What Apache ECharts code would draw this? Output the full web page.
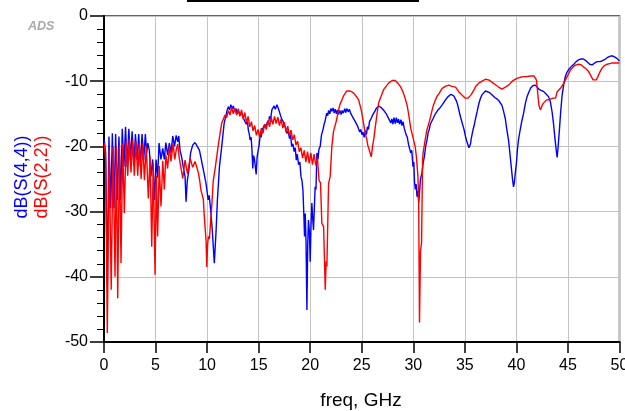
<!DOCTYPE html>
<html>
<head>
<meta charset="utf-8">
<script src="https://cdn.jsdelivr.net/npm/echarts@6/dist/echarts.min.js"></script>
<style>
html,body{margin:0;padding:0;background:#fff;}
#chart{width:625px;height:411px;}
</style>
</head>
<body>
<div id="chart"></div>
<script>
// ---- data (freq GHz, dB) ----
var xTicks = [0, 5, 10, 15, 20, 25, 30, 35, 40, 45, 50];
var yTicks = [-50, -40, -30, -20, -10, 0];
var seriesNames = ['dB(S(4,4))', 'dB(S(2,2))'];

// dB(S(4,4)) blue
var s44Low = [[0.02,-19],[0.16,-21],[0.32,-41.5],[0.48,-18.5],[0.65,-29.5],[0.81,-18],[0.97,-29.5],[1.13,-18.1],[1.29,-28.2],[1.45,-18.5],[1.61,-28.2],[1.77,-17.3],[1.93,-23.1],[2.09,-17],[2.25,-23.1],[2.41,-17.3],[2.57,-22.1],[2.73,-17.7],[2.89,-23],[3.05,-18.1],[3.21,-22.1],[3.37,-18.1],[3.53,-23],[3.69,-18.1],[3.85,-22.1],[4.01,-18.1],[4.14,-21],[4.25,-19.5],[4.4,-20.6],[4.55,-24.6],[4.72,-22],[4.9,-28.2],[5.05,-22],[5.2,-24.8],[5.34,-19.5],[5.52,-22],[5.7,-20.3],[5.85,-22],[6.0,-19.4],[6.17,-21.3],[6.34,-19.5],[6.5,-21],[6.67,-18.4],[6.84,-20],[7.0,-18.3],[7.15,-19.3],[7.25,-18.4],[7.38,-20.6],[7.55,-21.8],[7.7,-23.3],[7.86,-24.6],[7.96,-28.5],[8.08,-25.2],[8.2,-24.1],[8.4,-21],[8.6,-19.8],[8.83,-19.4],[9.05,-20],[9.26,-20.6],[9.45,-22.1],[9.7,-24.1],[9.9,-25.7],[10.1,-28.2],[10.2,-27.5],[10.35,-29.8],[10.5,-32.8],[10.7,-37.9],[10.87,-33],[11.0,-28.2],[11.2,-23.1],[11.42,-20],[11.65,-16.5]];
var s44Mid = [[11.84,-15.2],[11.95,-14.4],[12.07,-13.9],[12.18,-14.4],[12.3,-13.6],[12.42,-14.2],[12.55,-13.8],[12.67,-14.6],[12.8,-14.2],[12.92,-15],[13.05,-14.6],[13.2,-15.2],[13.35,-14.8],[13.5,-15.6],[13.65,-15.4],[13.8,-16.6],[13.92,-16.2],[14.0,-17.5],[14.1,-18.2],[14.17,-19],[14.27,-18.6],[14.35,-20.5],[14.43,-23.4],[14.5,-21.4],[14.58,-21.8],[14.67,-23],[14.76,-24.3],[14.85,-21.6],[14.95,-20.6],[15.05,-19.8],[15.15,-18.2],[15.25,-18.6],[15.35,-17.4],[15.47,-17.6],[15.6,-16.6],[15.72,-17.1],[15.85,-16.2],[15.95,-16.6],[16.05,-15.4],[16.17,-15.8],[16.28,-14.4],[16.4,-14.7],[16.5,-13.8],[16.62,-14.3],[16.77,-13.6],[16.9,-14.1],[17.02,-14.2],[17.15,-15.4],[17.25,-15.8],[17.38,-16.2],[17.5,-16.8],[17.62,-17.2],[17.73,-18],[17.85,-17.6],[18.0,-18.8],[18.1,-18.2],[18.2,-20],[18.32,-19.6],[18.45,-20.8],[18.55,-20.2],[18.65,-22.1],[18.75,-21.2],[18.87,-22.8],[19.0,-22.4],[19.1,-24.6],[19.2,-25.2],[19.3,-26.8],[19.38,-30.3],[19.45,-33.8],[19.52,-30.3],[19.6,-35],[19.68,-45.1],[19.76,-35],[19.83,-31.3],[19.92,-33],[20.0,-37.7],[20.08,-32],[20.16,-28.7],[20.24,-31],[20.32,-32.8],[20.4,-29.5],[20.48,-26.2],[20.56,-26.6],[20.65,-21],[20.75,-22],[20.85,-20.4],[20.97,-20],[21.1,-18.2],[21.23,-17.5],[21.35,-16.6],[21.46,-16],[21.6,-14.9],[21.7,-15.3],[21.78,-14.5],[21.9,-15],[22.0,-14.2],[22.1,-14.6],[22.22,-14.1],[22.33,-14.9],[22.43,-14.3],[22.55,-15],[22.65,-14.4],[22.75,-15.1],[22.88,-14.5],[23.0,-15.1],[23.1,-14.5],[23.22,-14.9],[23.35,-14.2],[23.45,-14.8],[23.55,-14.2],[23.7,-14.7],[23.8,-14.3],[23.92,-14.9],[24.05,-14.9],[24.15,-15.6],[24.25,-15.4],[24.37,-16.2],[24.48,-15.9],[24.6,-16.9],[24.7,-17],[24.8,-17.8],[24.9,-17.4],[25.02,-18.2],[25.12,-17.8],[25.24,-18.6],[25.35,-17.6],[25.45,-18.2],[25.55,-17],[25.65,-17.4],[25.75,-16.2],[25.85,-16.4],[25.95,-15.6],[26.05,-15.2],[26.15,-14.9],[26.28,-14.6],[26.4,-14.2],[26.52,-14.4],[26.65,-13.8],[26.8,-13.6],[26.92,-14.1],[27.05,-13.8],[27.15,-14.5],[27.28,-14.3],[27.38,-15],[27.5,-14.9],[27.6,-15.7],[27.7,-15.4],[27.82,-16.4],[27.92,-15.8],[28.02,-16.6],[28.12,-15.6],[28.25,-16.5],[28.35,-15.6],[28.47,-16.4],[28.57,-15.8],[28.67,-16.6],[28.8,-15.9],[28.9,-16.8],[29.0,-16.2],[29.12,-17.2],[29.22,-17],[29.3,-18.2],[29.42,-18.6],[29.55,-19.8],[29.65,-19.6],[29.75,-21],[29.85,-20.6],[29.97,-23.1]];
var s44High = [[30.05,-22.4],[30.12,-25.5],[30.2,-26.6],[30.28,-25.8],[30.36,-27.7],[30.45,-26.8],[30.52,-28.6],[30.6,-27.2],[30.68,-25.2],[30.76,-24.6],[30.84,-24.1],[30.95,-22.6],[31.07,-21.6],[31.2,-20],[31.33,-19],[31.45,-17.8],[31.55,-17.4],[31.65,-16.6],[31.78,-16.4],[31.9,-15.8],[32.02,-15.6],[32.14,-15],[32.25,-15.2],[32.35,-14.5],[32.45,-14.8],[32.58,-14.1],[32.7,-14.3],[32.82,-13.6],[32.94,-13.7],[33.06,-13],[33.2,-12.9],[33.35,-12.4],[33.5,-12.3],[33.65,-12.0],[33.8,-12.1],[33.95,-12.3],[34.07,-12.6],[34.2,-13.1],[34.3,-13.6],[34.4,-14.3],[34.5,-15],[34.6,-15.6],[34.72,-16.3],[34.85,-17],[34.95,-17.6],[35.08,-18.6],[35.2,-19.3],[35.3,-19.6],[35.4,-20.2],[35.47,-19.9],[35.55,-19.6],[35.62,-18.8],[35.7,-18.5],[35.8,-17.4],[35.9,-16.8],[36.0,-16],[36.2,-14.6],[36.35,-13.5],[36.5,-12.7],[36.65,-12.1],[36.8,-11.8],[37.0,-11.5],[37.15,-11.5],[37.35,-11.7],[37.5,-11.9],[37.7,-12.2],[37.9,-12.5],[38.1,-12.7],[38.3,-13],[38.45,-13.3],[38.6,-13.7],[38.77,-14.7],[38.93,-15.8],[39.05,-17.2],[39.15,-18.2],[39.25,-19.2],[39.38,-21.2],[39.5,-23.1],[39.62,-25],[39.72,-26.2],[39.8,-25.6],[39.9,-24],[40.0,-22.6],[40.1,-20.5],[40.2,-19],[40.35,-17.6],[40.5,-16.3],[40.7,-14.9],[40.87,-13.4],[41.05,-12.3],[41.2,-11.7],[41.4,-11],[41.6,-10.7],[41.84,-10.6],[42.0,-10.9],[42.17,-11.2],[42.4,-11.4],[42.65,-11.6],[42.9,-12],[43.13,-12.4],[43.3,-13.2],[43.47,-14.8],[43.6,-16.5],[43.72,-18.5],[43.85,-20.4],[43.95,-21.7],[44.05,-20],[44.17,-17.5],[44.3,-14.6],[44.43,-12.2],[44.6,-10.4],[44.76,-9.2],[44.92,-8.6],[45.08,-8.2],[45.3,-7.8],[45.57,-7.4],[45.8,-7],[46.05,-6.7],[46.3,-6.6],[46.5,-6.6],[46.7,-6.8],[46.9,-7.1],[47.1,-7.4],[47.35,-7.5],[47.6,-7.2],[47.83,-7],[48.1,-7],[48.3,-6.9],[48.55,-6.7],[48.8,-6.4],[49.05,-6.2],[49.3,-6.1],[49.55,-6.3],[49.75,-6.5],[50.0,-6.9]];

// dB(S(2,2)) red
var s22Low = [[0.02,-19.5],[0.16,-22],[0.32,-48.6],[0.5,-20.5],[0.7,-42],[0.88,-20],[1.07,-40],[1.2,-20],[1.33,-43.3],[1.5,-19.8],[1.65,-37.9],[1.81,-19.5],[1.97,-30.2],[2.14,-19.2],[2.3,-24.5],[2.46,-18.8],[2.62,-24],[2.78,-19],[2.94,-24.5],[3.1,-19.2],[3.27,-24.5],[3.43,-19.5],[3.6,-25],[3.76,-19.5],[3.92,-25.2],[4.1,-20],[4.3,-28],[4.47,-21.5],[4.63,-35.4],[4.78,-22.5],[4.95,-39.7],[5.08,-24.5],[5.2,-33.8],[5.36,-23],[5.53,-29.2],[5.7,-22.2],[5.85,-26.6],[6.0,-21.3],[6.17,-23.4],[6.34,-20],[6.5,-22.3],[6.7,-19.5],[6.86,-22],[7.0,-20.6],[7.15,-19.6],[7.3,-21.8],[7.45,-21.5],[7.64,-24.9],[7.86,-22.1],[8.1,-24.2],[8.35,-21.8],[8.6,-23.2],[8.83,-22.3],[9.0,-23.2],[9.16,-24.1],[9.28,-25.2],[9.4,-26.7],[9.52,-27.4],[9.64,-28.2],[9.72,-30.5],[9.8,-32.3],[9.9,-34.5],[9.97,-38.5],[10.05,-35],[10.13,-33.8],[10.22,-34.2],[10.3,-34.5],[10.45,-29.2],[10.6,-25.2],[10.78,-23.4],[11.0,-20.8],[11.13,-19.3],[11.26,-18]];
var s22Mid = [[11.42,-16.4],[11.58,-16.6],[11.74,-15.2],[11.9,-15.6],[12.06,-14.5],[12.22,-15.2],[12.38,-14.0],[12.54,-15.0],[12.7,-14.2],[12.86,-15.2],[13.02,-14.2],[13.18,-15.4],[13.34,-14.4],[13.5,-15.8],[13.66,-14.8],[13.82,-16.4],[13.98,-15.4],[14.14,-17],[14.3,-16.2],[14.46,-17.6],[14.62,-16.8],[14.78,-18.3],[14.94,-17.4],[15.1,-18.6],[15.26,-17.2],[15.42,-18],[15.58,-16.6],[15.74,-17.4],[15.9,-16],[16.06,-17],[16.22,-15.6],[16.38,-16.6],[16.54,-15.4],[16.7,-16.5],[16.86,-15.5],[17.02,-16.8],[17.18,-15.8],[17.34,-17.2],[17.5,-16.3],[17.66,-17.8],[17.82,-16.9],[17.98,-18.4],[18.14,-17.5],[18.3,-19],[18.46,-18.2],[18.62,-19.8],[18.78,-19.2],[18.94,-20.8],[19.1,-20.2],[19.26,-21.8],[19.42,-20.6],[19.58,-22.4],[19.74,-20.8],[19.9,-22.6],[20.06,-21],[20.22,-22.8],[20.38,-21.2],[20.54,-22.9],[20.7,-21.8],[20.86,-25.2],[21.0,-25.6],[21.13,-31.8],[21.3,-32.3],[21.46,-42],[21.55,-37.6],[21.62,-38.4],[21.78,-25.7],[21.94,-24.6],[22.1,-20],[22.26,-17.7],[22.52,-16.2],[22.75,-14.4],[22.9,-13.5],[23.07,-12.9],[23.25,-12.2],[23.4,-11.9],[23.55,-11.5],[23.72,-11.3],[23.88,-11.5],[24.05,-11.6],[24.2,-11.8],[24.37,-11.9],[24.55,-12.5],[24.7,-12.9],[24.85,-13.8],[24.95,-14.4],[25.08,-15.6],[25.18,-16.5],[25.34,-18],[25.5,-19],[25.58,-19.8],[25.66,-20],[25.75,-19.5],[25.83,-21.1],[25.92,-21.6],[26.05,-20],[26.2,-18.5],[26.3,-17.2],[26.4,-16],[26.5,-14.8],[26.63,-13.4],[26.75,-12.8],[26.86,-12.4],[27.0,-11.8],[27.12,-11.3],[27.3,-10.9],[27.44,-10.6],[27.6,-10.3],[27.77,-10.1],[27.95,-9.9],[28.1,-9.8],[28.25,-9.9],[28.4,-10.1],[28.55,-10.4],[28.74,-10.8],[28.9,-11.3],[29.06,-11.9],[29.22,-12.7],[29.4,-13.7],[29.52,-14.8],[29.64,-16],[29.75,-17.2],[29.87,-18],[30.0,-18.8],[30.1,-19],[30.2,-20.2],[30.3,-21.6],[30.45,-24.6],[30.52,-28.2],[30.6,-47],[30.7,-36],[30.8,-34.8],[30.9,-22.1]];
var s22High = [[30.95,-21],[31.05,-20],[31.17,-18.8],[31.3,-17.6],[31.5,-16.5],[31.65,-15.6],[31.8,-14.6],[31.97,-13.6],[32.14,-12.9],[32.3,-12.3],[32.5,-11.9],[32.65,-11.5],[32.8,-11.1],[32.94,-11],[33.1,-10.8],[33.27,-10.7],[33.44,-10.6],[33.6,-10.7],[33.75,-10.8],[33.9,-10.8],[34.1,-10.9],[34.25,-11.2],[34.4,-11.6],[34.55,-11.9],[34.72,-12.1],[34.9,-12.4],[35.05,-12.6],[35.2,-12.8],[35.3,-12.6],[35.45,-12.3],[35.6,-12.1],[35.75,-11.8],[35.9,-11.3],[36.05,-10.8],[36.2,-10.6],[36.34,-10.3],[36.5,-10.1],[36.67,-10],[36.85,-9.8],[37.0,-9.7],[37.15,-9.7],[37.3,-9.8],[37.5,-10],[37.64,-10.2],[37.85,-10.4],[38.1,-10.7],[38.35,-11],[38.6,-11.2],[38.77,-11.2],[38.93,-10.9],[39.1,-10.8],[39.25,-10.6],[39.4,-10.3],[39.6,-10],[39.8,-9.8],[40.0,-9.6],[40.2,-9.5],[40.4,-9.4],[40.7,-9.3],[41.0,-9.3],[41.35,-9.2],[41.7,-9.2],[41.85,-9.4],[41.94,-9.8],[42.02,-11],[42.1,-12.4],[42.2,-13.8],[42.33,-14.4],[42.45,-13.9],[42.6,-13.4],[42.75,-13.1],[42.9,-12.9],[43.05,-12.8],[43.23,-12.8],[43.4,-12.7],[43.56,-12.6],[43.7,-12.3],[43.8,-12.6],[43.95,-11.6],[44.1,-11.3],[44.27,-11.1],[44.45,-10.7],[44.6,-10.3],[44.76,-9.8],[44.92,-9.3],[45.08,-8.8],[45.24,-8.3],[45.4,-8],[45.57,-7.7],[45.8,-7.5],[46.05,-7.4],[46.3,-7.5],[46.5,-7.8],[46.75,-8.1],[47.0,-8.5],[47.2,-9.1],[47.44,-9.8],[47.6,-10.1],[47.75,-9.8],[47.9,-9.3],[48.1,-8.6],[48.3,-8],[48.55,-7.6],[48.8,-7.4],[49.05,-7.3],[49.3,-7.2],[49.6,-7.2],[50.0,-7.2]];

var s44Data = s44Low.concat(s44Mid, s44High);
var s22Data = s22Low.concat(s22Mid, s22High);

var FONT = '"Liberation Sans", Arial, sans-serif';
var chart = echarts.init(document.getElementById('chart'), null, {renderer: 'canvas'});
chart.setOption({
  animation: false,
  backgroundColor: '#ffffff',
  grid: {left: 104, right: 5.5, top: 16, bottom: 69, show: true, borderColor: '#333', borderWidth: 1.5,
         containLabel: false, outerBoundsMode: 'none'},
  xAxis: {
    type: 'value', min: xTicks[0], max: xTicks[xTicks.length - 1], interval: 5,
    axisLine: {show: true, onZero: false, lineStyle: {color: '#000', width: 2}},
    axisTick: {show: true, length: 11, lineStyle: {color: '#000', width: 1.5}},
    axisLabel: {color: '#000', fontSize: 16, fontFamily: FONT, margin: 16, hideOverlap: false},
    splitLine: {show: true, lineStyle: {color: '#c4c4c4', width: 1}}
  },
  yAxis: {
    type: 'value', min: yTicks[0], max: yTicks[yTicks.length - 1], interval: 10,
    axisLine: {show: true, onZero: false, lineStyle: {color: '#000', width: 2}},
    axisTick: {show: true, length: 14, lineStyle: {color: '#000', width: 1.5}},
    minorTick: {show: true, splitNumber: 5, length: 7, lineStyle: {color: '#000', width: 1}},
    axisLabel: {color: '#000', fontSize: 16, fontFamily: FONT, margin: 16},
    splitLine: {show: true, lineStyle: {color: '#c4c4c4', width: 1}}
  },
  series: [
    {name: seriesNames[0], type: 'line', data: s44Data, showSymbol: false, symbol: 'none',
     lineStyle: {color: '#0000ff', width: 1.4}, itemStyle: {color: '#0000ff'}, z: 2},
    {name: seriesNames[1], type: 'line', data: s22Data, showSymbol: false, symbol: 'none',
     lineStyle: {color: '#ff0000', width: 1.4}, itemStyle: {color: '#ff0000'}, z: 3}
  ],
  graphic: [
    {type: 'line', shape: {x1: 187, y1: 1, x2: 419, y2: 1}, style: {stroke: '#000', lineWidth: 2}},
    {type: 'text', x: 28, y: 20, style: {text: 'ADS', fill: '#a9a9a9', font: 'bold italic 12.5px ' + FONT,
      shadowBlur: 2, shadowColor: 'rgba(0,0,0,0.35)'}},
    {type: 'text', x: 22, y: 177, rotation: Math.PI / 2,
     style: {text: seriesNames[0], fill: '#0000ff', font: '18px ' + FONT, textAlign: 'center', textVerticalAlign: 'middle'}},
    {type: 'text', x: 42, y: 177, rotation: Math.PI / 2,
     style: {text: seriesNames[1], fill: '#ff0000', font: '18px ' + FONT, textAlign: 'center', textVerticalAlign: 'middle'}},
    {type: 'text', x: 361, y: 401,
     style: {text: 'freq, GHz', fill: '#000', font: '19px ' + FONT, textAlign: 'center', textVerticalAlign: 'middle'}}
  ]
});
</script>
</body>
</html>
